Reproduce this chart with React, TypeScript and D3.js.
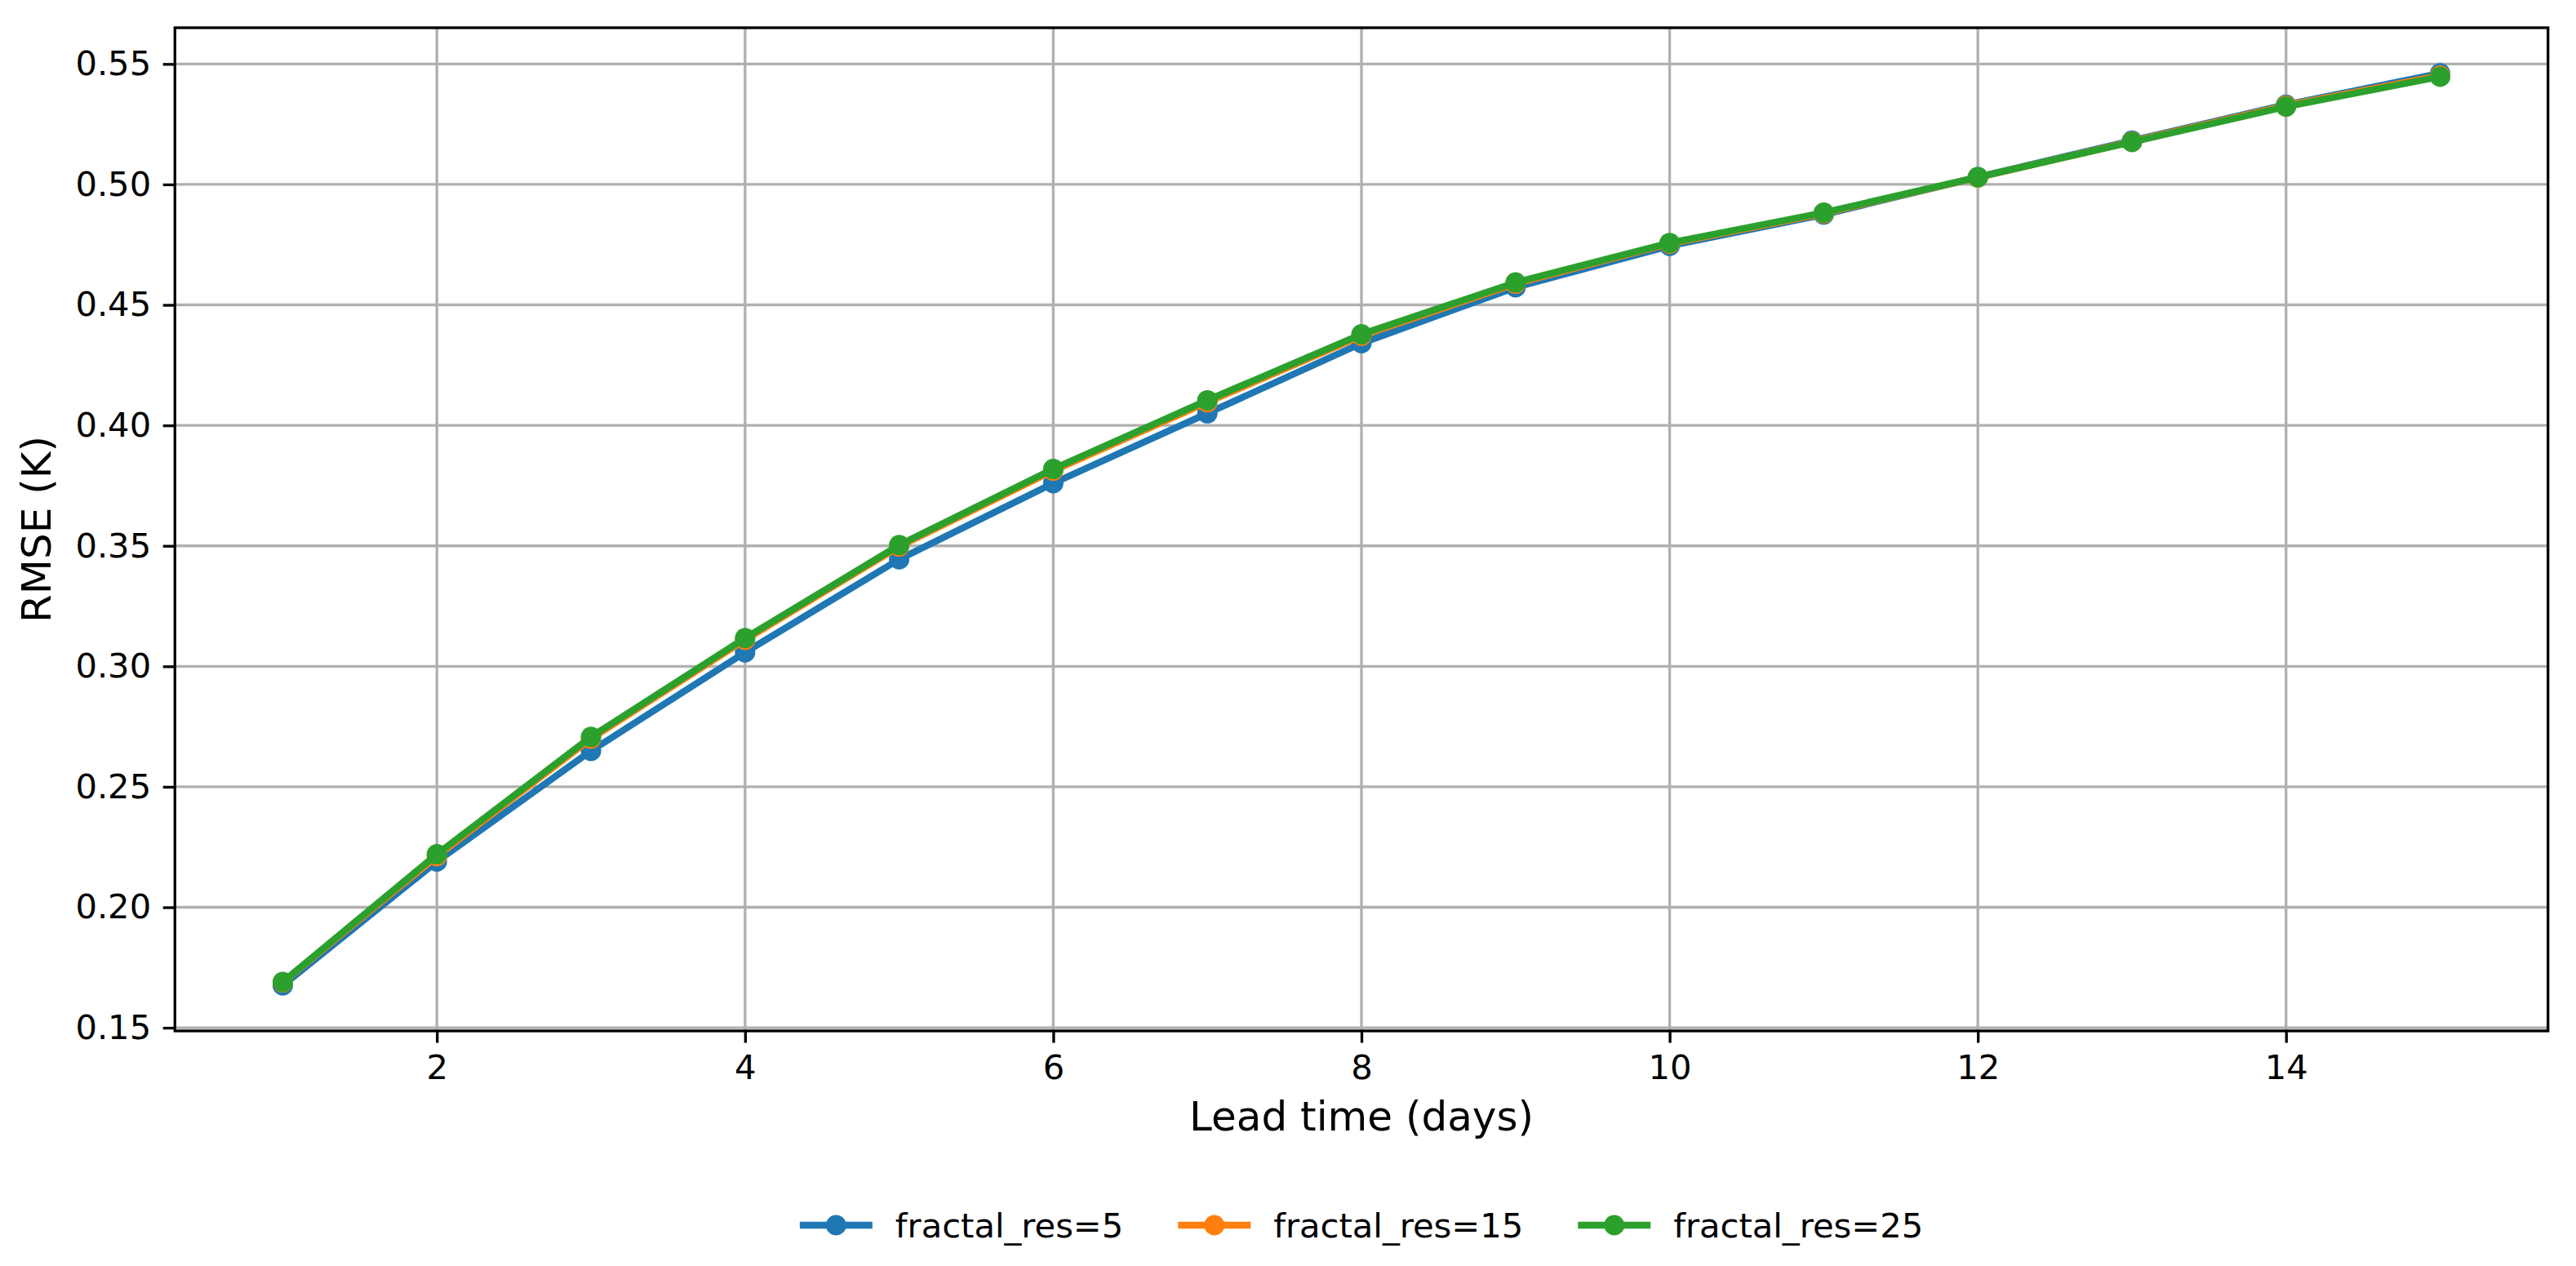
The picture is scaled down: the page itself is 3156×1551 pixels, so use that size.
import { useEffect, useRef } from 'react'
import * as d3 from 'd3'

// lead time in days
const leadDays = [1, 2, 3, 4, 5, 6, 7, 8, 9, 10, 11, 12, 13, 14, 15]

// RMSE (K) per fractal resolution
const rmseRes5 = [
  0.1676, 0.219, 0.2649, 0.3058, 0.3444, 0.376, 0.405, 0.4341, 0.4573, 0.4745,
  0.4875, 0.503, 0.5182, 0.5331, 0.5461,
]
const rmseRes15 = [
  0.1688, 0.2212, 0.27, 0.311, 0.3497, 0.3812, 0.4096, 0.4372, 0.4588, 0.4754,
  0.488, 0.5029, 0.5178, 0.5327, 0.5452,
]
const rmseRes25 = [
  0.169, 0.222, 0.2707, 0.3117, 0.3503, 0.3819, 0.4104, 0.4378, 0.4593, 0.4757,
  0.4883, 0.503, 0.5176, 0.5323, 0.5447,
]

const seriesNames = ['fractal_res=5', 'fractal_res=15', 'fractal_res=25']
const seriesColors = ['#1f77b4', '#ff7f0e', '#2ca02c']

const xTicks = [2, 4, 6, 8, 10, 12, 14]
const yTicks = [0.15, 0.2, 0.25, 0.3, 0.35, 0.4, 0.45, 0.5, 0.55]

const App = () => {
  const svgRef = useRef<SVGSVGElement | null>(null)

  useEffect(() => {
    if (!svgRef.current) return
    document.body.style.margin = '0'
    document.body.style.overflow = 'hidden'

    const svg = d3.select(svgRef.current)
    svg.selectAll('*').remove()

    const width = 3156
    const height = 1551
    const margin = { top: 34, right: 34.3, bottom: 288, left: 214.3 }
    const innerW = width - margin.left - margin.right
    const innerH = height - margin.top - margin.bottom

    const pt = 300 / 72 // figure was saved at 300 dpi
    const font = 'DejaVu Sans, sans-serif'

    svg.attr('width', width).attr('height', height)
    svg.append('rect').attr('width', width).attr('height', height).attr('fill', 'white')

    const series = [rmseRes5, rmseRes15, rmseRes25].map((vals, i) => ({
      name: seriesNames[i],
      color: seriesColors[i],
      points: vals.map((v, j) => ({ day: leadDays[j], rmse: v })),
    }))

    // matplotlib style 5% margins
    const [xMin, xMax] = d3.extent(leadDays) as [number, number]
    const allVals = [...rmseRes5, ...rmseRes15, ...rmseRes25]
    const [yMin, yMax] = d3.extent(allVals) as [number, number]
    const xPad = (xMax - xMin) * 0.05
    const yPad = (yMax - yMin) * 0.05

    const x = d3.scaleLinear().domain([xMin - xPad, xMax + xPad]).range([0, innerW])
    const y = d3.scaleLinear().domain([yMin - yPad, yMax + yPad]).range([innerH, 0])

    const g = svg.append('g').attr('transform', `translate(${margin.left}, ${margin.top})`)

    // grid
    const grid = g.append('g')
    grid
      .selectAll('line.vgrid')
      .data(xTicks)
      .join('line')
      .attr('x1', (d) => x(d))
      .attr('x2', (d) => x(d))
      .attr('y1', 0)
      .attr('y2', innerH)
      .attr('stroke', '#b0b0b0')
      .attr('stroke-width', 0.8 * pt)
    grid
      .selectAll('line.hgrid')
      .data(yTicks)
      .join('line')
      .attr('x1', 0)
      .attr('x2', innerW)
      .attr('y1', (d) => y(d))
      .attr('y2', (d) => y(d))
      .attr('stroke', '#b0b0b0')
      .attr('stroke-width', 0.8 * pt)

    const line = d3
      .line<{ day: number; rmse: number }>()
      .x((d) => x(d.day))
      .y((d) => y(d.rmse))

    // lines + markers
    series.forEach((s) => {
      g.append('path')
        .datum(s.points)
        .attr('fill', 'none')
        .attr('stroke', s.color)
        .attr('stroke-width', 2 * pt)
        .attr('stroke-linejoin', 'round')
        .attr('d', line)
      g.append('g')
        .selectAll('circle')
        .data(s.points)
        .join('circle')
        .attr('cx', (d) => x(d.day))
        .attr('cy', (d) => y(d.rmse))
        .attr('r', 3 * pt)
        .attr('fill', s.color)
    })

    // axes
    const xAxis = d3
      .axisBottom(x)
      .tickValues(xTicks)
      .tickFormat(d3.format('d'))
      .tickSize(3.5 * pt)
      .tickPadding(3.5 * pt)
    const yAxis = d3
      .axisLeft(y)
      .tickValues(yTicks)
      .tickFormat(d3.format('.2f'))
      .tickSize(3.5 * pt)
      .tickPadding(3.5 * pt)

    const gx = g.append('g').attr('transform', `translate(0,${innerH})`).call(xAxis)
    const gy = g.append('g').call(yAxis)
    ;[gx, gy].forEach((ax) => {
      ax.select('.domain').remove()
      ax.selectAll('line').attr('stroke', 'black').attr('stroke-width', 0.8 * pt)
      ax.selectAll('text')
        .attr('fill', 'black')
        .attr('font-family', font)
        .attr('font-size', 10 * pt)
    })

    // frame
    g.append('rect')
      .attr('width', innerW)
      .attr('height', innerH)
      .attr('fill', 'none')
      .attr('stroke', 'black')
      .attr('stroke-width', 0.8 * pt)
      .attr('stroke-linecap', 'square')

    // axis titles
    g.append('text')
      .attr('x', innerW / 2)
      .attr('y', innerH + 122)
      .attr('text-anchor', 'middle')
      .attr('font-family', font)
      .attr('font-size', 12 * pt)
      .text('Lead time (days)')

    g.append('text')
      .attr('transform', 'rotate(-90)')
      .attr('x', -innerH / 2)
      .attr('y', 62 - margin.left)
      .attr('text-anchor', 'middle')
      .attr('font-family', font)
      .attr('font-size', 12 * pt)
      .text('RMSE (K)')

    // legend below the plot, centred
    const legend = svg.append('g')
    const handleLen = 89
    const handlePad = 28
    const colSpacing = 67
    const legendY = 1501
    const items = series.map((s) => {
      const item = legend.append('g')
      item
        .append('line')
        .attr('x1', 0)
        .attr('x2', handleLen)
        .attr('y1', 0)
        .attr('y2', 0)
        .attr('stroke', s.color)
        .attr('stroke-width', 2 * pt)
      item
        .append('circle')
        .attr('cx', handleLen / 2)
        .attr('cy', 0)
        .attr('r', 3 * pt)
        .attr('fill', s.color)
      const t = item
        .append('text')
        .attr('x', handleLen + handlePad)
        .attr('y', 0)
        .attr('dy', '0.36em')
        .attr('font-family', font)
        .attr('font-size', 10 * pt)
        .text(s.name)
      const w = (t.node() as SVGTextElement).getComputedTextLength()
      return { item, w: handleLen + handlePad + w }
    })
    const total = d3.sum(items, (d) => d.w) + colSpacing * (items.length - 1)
    let cursor = margin.left + innerW / 2 - total / 2
    items.forEach((d) => {
      d.item.attr('transform', `translate(${cursor},${legendY})`)
      cursor += d.w + colSpacing
    })
  }, [])

  return (
    <svg ref={svgRef} style={{ position: 'absolute', left: 0, top: 0, display: 'block' }}></svg>
  )
}

export default App
